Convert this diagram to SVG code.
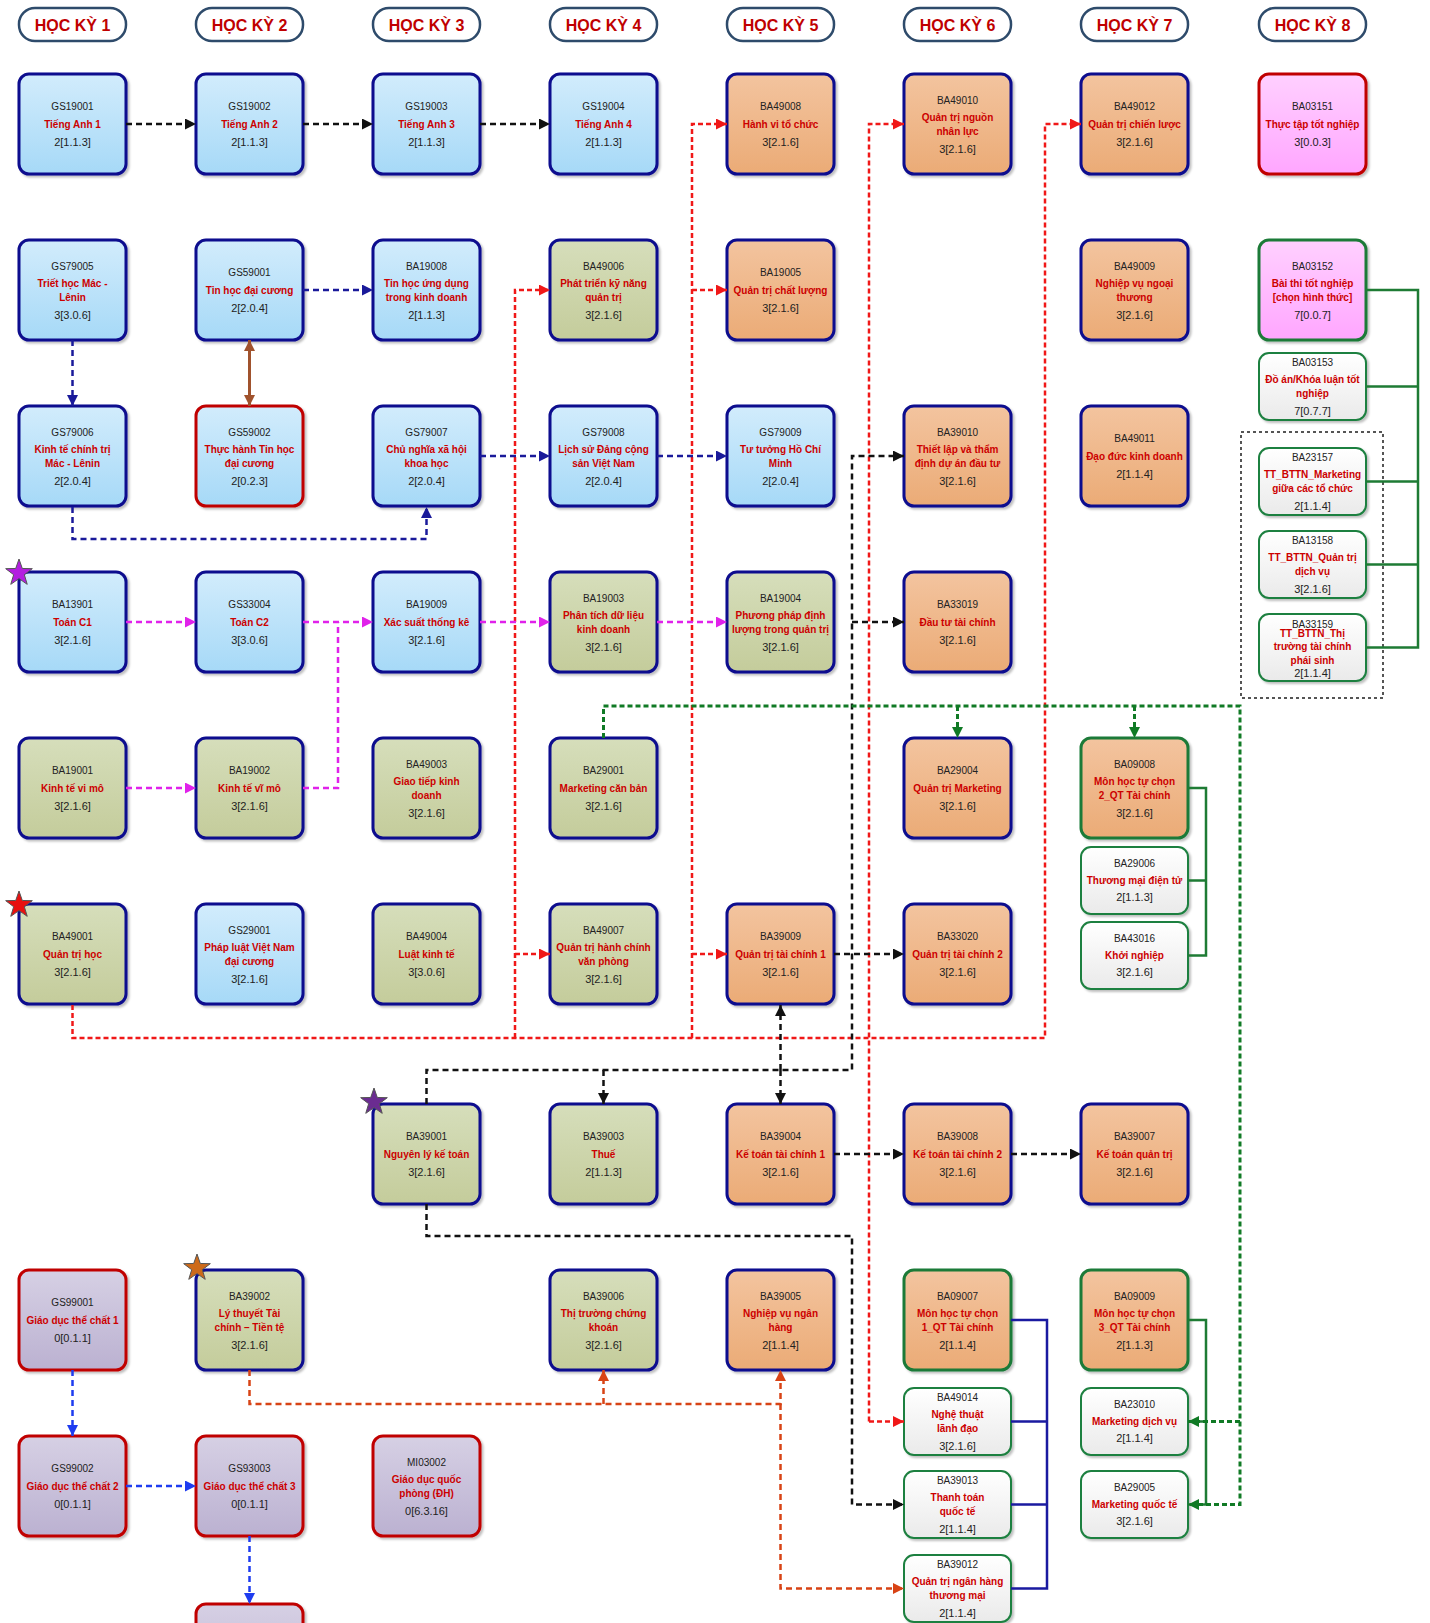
<svg xmlns="http://www.w3.org/2000/svg" xmlns:xlink="http://www.w3.org/1999/xlink" width="1430" height="1623" viewBox="0 0 1430 1623">
<style>
text{font-family:"Liberation Sans",Arial,sans-serif;text-anchor:middle}
.c{font-size:10px;fill:#222}
.n{font-size:10px;font-weight:bold;fill:#CC0000}
.k{font-size:11px;fill:#222}
.h{font-size:16px;font-weight:bold;fill:#C00000}
.hd{fill:#fff;stroke:#2E4B6B;stroke-width:2.5}
rect.b{stroke-width:3;filter:url(#sh)}
.blue{fill:url(#gBlue);stroke:#0D0D8E}
.blueR{fill:url(#gBlue);stroke:#C00000}
.olive{fill:url(#gOlive);stroke:#0D0D8E}
.orange{fill:url(#gOrange);stroke:#0D0D8E}
.orangeG{fill:url(#gOrange);stroke:#1B7A37}
.pinkR{fill:url(#gPink);stroke:#C00000}
.pinkG{fill:url(#gPink);stroke:#1B7A37}
.lav{fill:url(#gLav);stroke:#C00000}
rect.w{fill:url(#gWhite);stroke:#1E8040;stroke-width:2;filter:url(#sh)}
.cx{fill:none;stroke-width:2.5;stroke-dasharray:6 4}
.ck{stroke:#111}
.cn{stroke:#1A1A9A}
.cm{stroke:#E022EA}
.cr{stroke:#F01818;stroke-dasharray:5 3}
.co{stroke:#D84315}
.cg{stroke:#107A25;stroke-width:3;stroke-dasharray:5 3}
.cb{stroke:#1E3CF0}
.bus{fill:none;stroke-width:2.5}
.star{stroke:#555;stroke-width:1}
</style>
<defs>
<linearGradient id="gBlue" x1="0" y1="0" x2="0" y2="1"><stop offset="0" stop-color="#D2ECFC"/><stop offset="1" stop-color="#A6D9F7"/></linearGradient>
<linearGradient id="gOlive" x1="0" y1="0" x2="0" y2="1"><stop offset="0" stop-color="#D6DEBB"/><stop offset="1" stop-color="#C4CC9B"/></linearGradient>
<linearGradient id="gOrange" x1="0" y1="0" x2="0" y2="1"><stop offset="0" stop-color="#F3C49F"/><stop offset="1" stop-color="#EBAB76"/></linearGradient>
<linearGradient id="gPink" x1="0" y1="0" x2="0" y2="1"><stop offset="0" stop-color="#FFD0FF"/><stop offset="1" stop-color="#FFA6FF"/></linearGradient>
<linearGradient id="gLav" x1="0" y1="0" x2="0" y2="1"><stop offset="0" stop-color="#D6D0E4"/><stop offset="1" stop-color="#BBB1D1"/></linearGradient>
<linearGradient id="gWhite" x1="0" y1="0" x2="0" y2="1"><stop offset="0" stop-color="#FFFFFF"/><stop offset="1" stop-color="#EAEAEA"/></linearGradient>
<filter id="sh" x="-10%" y="-10%" width="125%" height="125%"><feDropShadow dx="2" dy="2" stdDeviation="1.2" flood-color="#000" flood-opacity="0.25"/></filter>
<marker id="aK" markerUnits="userSpaceOnUse" markerWidth="11" markerHeight="11" refX="11" refY="5.5" orient="auto"><path d="M0,0 L11,5.5 L0,11 z" fill="#111"/></marker>
<marker id="aN" markerUnits="userSpaceOnUse" markerWidth="11" markerHeight="11" refX="11" refY="5.5" orient="auto"><path d="M0,0 L11,5.5 L0,11 z" fill="#1A1A9A"/></marker>
<marker id="aM" markerUnits="userSpaceOnUse" markerWidth="11" markerHeight="11" refX="11" refY="5.5" orient="auto"><path d="M0,0 L11,5.5 L0,11 z" fill="#E022EA"/></marker>
<marker id="aR" markerUnits="userSpaceOnUse" markerWidth="11" markerHeight="11" refX="11" refY="5.5" orient="auto"><path d="M0,0 L11,5.5 L0,11 z" fill="#F01818"/></marker>
<marker id="aO" markerUnits="userSpaceOnUse" markerWidth="11" markerHeight="11" refX="11" refY="5.5" orient="auto"><path d="M0,0 L11,5.5 L0,11 z" fill="#D84315"/></marker>
<marker id="aG" markerUnits="userSpaceOnUse" markerWidth="11" markerHeight="11" refX="11" refY="5.5" orient="auto"><path d="M0,0 L11,5.5 L0,11 z" fill="#107A25"/></marker>
<marker id="aB" markerUnits="userSpaceOnUse" markerWidth="11" markerHeight="11" refX="11" refY="5.5" orient="auto"><path d="M0,0 L11,5.5 L0,11 z" fill="#1E3CF0"/></marker>
<marker id="aBr" markerUnits="userSpaceOnUse" markerWidth="11" markerHeight="11" refX="11" refY="5.5" orient="auto-start-reverse"><path d="M0,0 L11,5.5 L0,11 z" fill="#A0522D"/></marker>
<polygon id="star" points="0,-14 3.29,-4.53 13.32,-4.33 5.33,1.73 8.23,11.33 0,5.6 -8.23,11.33 -5.33,1.73 -13.32,-4.33 -3.29,-4.53"/>
</defs>
<rect width="1430" height="1623" fill="#fff"/>

<g id="headers">
<g id="hk1"><rect class="hd" x="19" y="8" width="107" height="33" rx="16"/><text class="h" x="72.5" y="30.5">HỌC KỲ 1</text></g>
<g id="hk2"><rect class="hd" x="196" y="8" width="107" height="33" rx="16"/><text class="h" x="249.5" y="30.5">HỌC KỲ 2</text></g>
<g id="hk3"><rect class="hd" x="373" y="8" width="107" height="33" rx="16"/><text class="h" x="426.5" y="30.5">HỌC KỲ 3</text></g>
<g id="hk4"><rect class="hd" x="550" y="8" width="107" height="33" rx="16"/><text class="h" x="603.5" y="30.5">HỌC KỲ 4</text></g>
<g id="hk5"><rect class="hd" x="727" y="8" width="107" height="33" rx="16"/><text class="h" x="780.5" y="30.5">HỌC KỲ 5</text></g>
<g id="hk6"><rect class="hd" x="904" y="8" width="107" height="33" rx="16"/><text class="h" x="957.5" y="30.5">HỌC KỲ 6</text></g>
<g id="hk7"><rect class="hd" x="1081" y="8" width="107" height="33" rx="16"/><text class="h" x="1134.5" y="30.5">HỌC KỲ 7</text></g>
<g id="hk8"><rect class="hd" x="1259" y="8" width="107" height="33" rx="16"/><text class="h" x="1312.5" y="30.5">HỌC KỲ 8</text></g>
</g>

<rect id="elective-frame" x="1241" y="432" width="142" height="266" fill="none" stroke="#555" stroke-width="2" stroke-dasharray="3 3"/>

<g id="nodes">
<!-- Column 1 -->
<g id="GS19001"><rect class="b blue" x="19" y="74" width="107" height="100" rx="10"/><text class="c" x="72.5" y="109.5">GS19001</text><text class="n" x="72.5" y="127.5">Tiếng Anh 1</text><text class="k" x="72.5" y="146">2[1.1.3]</text></g>
<g id="GS79005"><rect class="b blue" x="19" y="240" width="107" height="100" rx="10"/><text class="c" x="72.5" y="269.5">GS79005</text><text class="n" x="72.5" y="287">Triết học Mác -</text><text class="n" x="72.5" y="301">Lênin</text><text class="k" x="72.5" y="319">3[3.0.6]</text></g>
<g id="GS79006"><rect class="b blue" x="19" y="406" width="107" height="100" rx="10"/><text class="c" x="72.5" y="435.5">GS79006</text><text class="n" x="72.5" y="453">Kinh tế chính trị</text><text class="n" x="72.5" y="467">Mác - Lênin</text><text class="k" x="72.5" y="485">2[2.0.4]</text></g>
<g id="BA13901"><rect class="b blue" x="19" y="572" width="107" height="100" rx="10"/><use xlink:href="#star" href="#star" x="19" y="573" class="star" fill="#B31EE0"/><text class="c" x="72.5" y="607.5">BA13901</text><text class="n" x="72.5" y="625.5">Toán C1</text><text class="k" x="72.5" y="644">3[2.1.6]</text></g>
<g id="BA19001"><rect class="b olive" x="19" y="738" width="107" height="100" rx="10"/><text class="c" x="72.5" y="773.5">BA19001</text><text class="n" x="72.5" y="791.5">Kinh tế vi mô</text><text class="k" x="72.5" y="810">3[2.1.6]</text></g>
<g id="BA49001"><rect class="b olive" x="19" y="904" width="107" height="100" rx="10"/><use xlink:href="#star" href="#star" x="19" y="905" class="star" fill="#E81010"/><text class="c" x="72.5" y="939.5">BA49001</text><text class="n" x="72.5" y="957.5">Quản trị học</text><text class="k" x="72.5" y="976">3[2.1.6]</text></g>
<g id="GS99001"><rect class="b lav" x="19" y="1270" width="107" height="100" rx="10"/><text class="c" x="72.5" y="1305.5">GS99001</text><text class="n" x="72.5" y="1323.5">Giáo dục thể chất 1</text><text class="k" x="72.5" y="1342">0[0.1.1]</text></g>
<g id="GS99002"><rect class="b lav" x="19" y="1436" width="107" height="100" rx="10"/><text class="c" x="72.5" y="1471.5">GS99002</text><text class="n" x="72.5" y="1489.5">Giáo dục thể chất 2</text><text class="k" x="72.5" y="1508">0[0.1.1]</text></g>

<!-- Column 2 -->
<g id="GS19002"><rect class="b blue" x="196" y="74" width="107" height="100" rx="10"/><text class="c" x="249.5" y="109.5">GS19002</text><text class="n" x="249.5" y="127.5">Tiếng Anh 2</text><text class="k" x="249.5" y="146">2[1.1.3]</text></g>
<g id="GS59001"><rect class="b blue" x="196" y="240" width="107" height="100" rx="10"/><text class="c" x="249.5" y="275.5">GS59001</text><text class="n" x="249.5" y="293.5">Tin học đại cương</text><text class="k" x="249.5" y="312">2[2.0.4]</text></g>
<g id="GS59002"><rect class="b blueR" x="196" y="406" width="107" height="100" rx="10"/><text class="c" x="249.5" y="435.5">GS59002</text><text class="n" x="249.5" y="453">Thực hành Tin học</text><text class="n" x="249.5" y="467">đại cương</text><text class="k" x="249.5" y="485">2[0.2.3]</text></g>
<g id="GS33004"><rect class="b blue" x="196" y="572" width="107" height="100" rx="10"/><text class="c" x="249.5" y="607.5">GS33004</text><text class="n" x="249.5" y="625.5">Toán C2</text><text class="k" x="249.5" y="644">3[3.0.6]</text></g>
<g id="BA19002"><rect class="b olive" x="196" y="738" width="107" height="100" rx="10"/><text class="c" x="249.5" y="773.5">BA19002</text><text class="n" x="249.5" y="791.5">Kinh tế vĩ mô</text><text class="k" x="249.5" y="810">3[2.1.6]</text></g>
<g id="GS29001"><rect class="b blue" x="196" y="904" width="107" height="100" rx="10"/><text class="c" x="249.5" y="933.5">GS29001</text><text class="n" x="249.5" y="951">Pháp luật Việt Nam</text><text class="n" x="249.5" y="965">đại cương</text><text class="k" x="249.5" y="983">3[2.1.6]</text></g>
<g id="BA39002"><rect class="b olive" x="196" y="1270" width="107" height="100" rx="10"/><use xlink:href="#star" href="#star" x="197" y="1268" class="star" fill="#CD6A1A"/><text class="c" x="249.5" y="1299.5">BA39002</text><text class="n" x="249.5" y="1317">Lý thuyết Tài</text><text class="n" x="249.5" y="1331">chính – Tiền tệ</text><text class="k" x="249.5" y="1349">3[2.1.6]</text></g>
<g id="GS93003"><rect class="b lav" x="196" y="1436" width="107" height="100" rx="10"/><text class="c" x="249.5" y="1471.5">GS93003</text><text class="n" x="249.5" y="1489.5">Giáo dục thể chất 3</text><text class="k" x="249.5" y="1508">0[0.1.1]</text></g>
<g id="GDTC-next"><rect class="b lav" x="196" y="1604" width="107" height="100" rx="10"/></g>

<!-- Column 3 -->
<g id="GS19003"><rect class="b blue" x="373" y="74" width="107" height="100" rx="10"/><text class="c" x="426.5" y="109.5">GS19003</text><text class="n" x="426.5" y="127.5">Tiếng Anh 3</text><text class="k" x="426.5" y="146">2[1.1.3]</text></g>
<g id="BA19008"><rect class="b blue" x="373" y="240" width="107" height="100" rx="10"/><text class="c" x="426.5" y="269.5">BA19008</text><text class="n" x="426.5" y="287">Tin học ứng dụng</text><text class="n" x="426.5" y="301">trong kinh doanh</text><text class="k" x="426.5" y="319">2[1.1.3]</text></g>
<g id="GS79007"><rect class="b blue" x="373" y="406" width="107" height="100" rx="10"/><text class="c" x="426.5" y="435.5">GS79007</text><text class="n" x="426.5" y="453">Chủ nghĩa xã hội</text><text class="n" x="426.5" y="467">khoa học</text><text class="k" x="426.5" y="485">2[2.0.4]</text></g>
<g id="BA19009"><rect class="b blue" x="373" y="572" width="107" height="100" rx="10"/><text class="c" x="426.5" y="607.5">BA19009</text><text class="n" x="426.5" y="625.5">Xác suất thống kê</text><text class="k" x="426.5" y="644">3[2.1.6]</text></g>
<g id="BA49003"><rect class="b olive" x="373" y="738" width="107" height="100" rx="10"/><text class="c" x="426.5" y="767.5">BA49003</text><text class="n" x="426.5" y="785">Giao tiếp kinh</text><text class="n" x="426.5" y="799">doanh</text><text class="k" x="426.5" y="817">3[2.1.6]</text></g>
<g id="BA49004"><rect class="b olive" x="373" y="904" width="107" height="100" rx="10"/><text class="c" x="426.5" y="939.5">BA49004</text><text class="n" x="426.5" y="957.5">Luật kinh tế</text><text class="k" x="426.5" y="976">3[3.0.6]</text></g>
<g id="BA39001"><rect class="b olive" x="373" y="1104" width="107" height="100" rx="10"/><use xlink:href="#star" href="#star" x="374" y="1102" class="star" fill="#6B2C91"/><text class="c" x="426.5" y="1139.5">BA39001</text><text class="n" x="426.5" y="1157.5">Nguyên lý kế toán</text><text class="k" x="426.5" y="1176">3[2.1.6]</text></g>
<g id="MI03002"><rect class="b lav" x="373" y="1436" width="107" height="100" rx="10"/><text class="c" x="426.5" y="1465.5">MI03002</text><text class="n" x="426.5" y="1483">Giáo dục quốc</text><text class="n" x="426.5" y="1497">phòng (ĐH)</text><text class="k" x="426.5" y="1515">0[6.3.16]</text></g>

<!-- Column 4 -->
<g id="GS19004"><rect class="b blue" x="550" y="74" width="107" height="100" rx="10"/><text class="c" x="603.5" y="109.5">GS19004</text><text class="n" x="603.5" y="127.5">Tiếng Anh 4</text><text class="k" x="603.5" y="146">2[1.1.3]</text></g>
<g id="BA49006"><rect class="b olive" x="550" y="240" width="107" height="100" rx="10"/><text class="c" x="603.5" y="269.5">BA49006</text><text class="n" x="603.5" y="287">Phát triển kỹ năng</text><text class="n" x="603.5" y="301">quản trị</text><text class="k" x="603.5" y="319">3[2.1.6]</text></g>
<g id="GS79008"><rect class="b blue" x="550" y="406" width="107" height="100" rx="10"/><text class="c" x="603.5" y="435.5">GS79008</text><text class="n" x="603.5" y="453">Lịch sử Đảng cộng</text><text class="n" x="603.5" y="467">sản Việt Nam</text><text class="k" x="603.5" y="485">2[2.0.4]</text></g>
<g id="BA19003"><rect class="b olive" x="550" y="572" width="107" height="100" rx="10"/><text class="c" x="603.5" y="601.5">BA19003</text><text class="n" x="603.5" y="619">Phân tích dữ liệu</text><text class="n" x="603.5" y="633">kinh doanh</text><text class="k" x="603.5" y="651">3[2.1.6]</text></g>
<g id="BA29001"><rect class="b olive" x="550" y="738" width="107" height="100" rx="10"/><text class="c" x="603.5" y="773.5">BA29001</text><text class="n" x="603.5" y="791.5">Marketing căn bản</text><text class="k" x="603.5" y="810">3[2.1.6]</text></g>
<g id="BA49007"><rect class="b olive" x="550" y="904" width="107" height="100" rx="10"/><text class="c" x="603.5" y="933.5">BA49007</text><text class="n" x="603.5" y="951">Quản trị hành chính</text><text class="n" x="603.5" y="965">văn phòng</text><text class="k" x="603.5" y="983">3[2.1.6]</text></g>
<g id="BA39003"><rect class="b olive" x="550" y="1104" width="107" height="100" rx="10"/><text class="c" x="603.5" y="1139.5">BA39003</text><text class="n" x="603.5" y="1157.5">Thuế</text><text class="k" x="603.5" y="1176">2[1.1.3]</text></g>
<g id="BA39006"><rect class="b olive" x="550" y="1270" width="107" height="100" rx="10"/><text class="c" x="603.5" y="1299.5">BA39006</text><text class="n" x="603.5" y="1317">Thị trường chứng</text><text class="n" x="603.5" y="1331">khoán</text><text class="k" x="603.5" y="1349">3[2.1.6]</text></g>

<!-- Column 5 -->
<g id="BA49008"><rect class="b orange" x="727" y="74" width="107" height="100" rx="10"/><text class="c" x="780.5" y="109.5">BA49008</text><text class="n" x="780.5" y="127.5">Hành vi tổ chức</text><text class="k" x="780.5" y="146">3[2.1.6]</text></g>
<g id="BA19005"><rect class="b orange" x="727" y="240" width="107" height="100" rx="10"/><text class="c" x="780.5" y="275.5">BA19005</text><text class="n" x="780.5" y="293.5">Quản trị chất lượng</text><text class="k" x="780.5" y="312">3[2.1.6]</text></g>
<g id="GS79009"><rect class="b blue" x="727" y="406" width="107" height="100" rx="10"/><text class="c" x="780.5" y="435.5">GS79009</text><text class="n" x="780.5" y="453">Tư tưởng Hồ Chí</text><text class="n" x="780.5" y="467">Minh</text><text class="k" x="780.5" y="485">2[2.0.4]</text></g>
<g id="BA19004"><rect class="b olive" x="727" y="572" width="107" height="100" rx="10"/><text class="c" x="780.5" y="601.5">BA19004</text><text class="n" x="780.5" y="619">Phương pháp định</text><text class="n" x="780.5" y="633">lượng trong quản trị</text><text class="k" x="780.5" y="651">3[2.1.6]</text></g>
<g id="BA39009"><rect class="b orange" x="727" y="904" width="107" height="100" rx="10"/><text class="c" x="780.5" y="939.5">BA39009</text><text class="n" x="780.5" y="957.5">Quản trị tài chính 1</text><text class="k" x="780.5" y="976">3[2.1.6]</text></g>
<g id="BA39004"><rect class="b orange" x="727" y="1104" width="107" height="100" rx="10"/><text class="c" x="780.5" y="1139.5">BA39004</text><text class="n" x="780.5" y="1157.5">Kế toán tài chính 1</text><text class="k" x="780.5" y="1176">3[2.1.6]</text></g>
<g id="BA39005"><rect class="b orange" x="727" y="1270" width="107" height="100" rx="10"/><text class="c" x="780.5" y="1299.5">BA39005</text><text class="n" x="780.5" y="1317">Nghiệp vụ ngân</text><text class="n" x="780.5" y="1331">hàng</text><text class="k" x="780.5" y="1349">2[1.1.4]</text></g>

<!-- Column 6 -->
<g id="BA49010"><rect class="b orange" x="904" y="74" width="107" height="100" rx="10"/><text class="c" x="957.5" y="103.5">BA49010</text><text class="n" x="957.5" y="121">Quản trị nguồn</text><text class="n" x="957.5" y="135">nhân lực</text><text class="k" x="957.5" y="153">3[2.1.6]</text></g>
<g id="BA39010"><rect class="b orange" x="904" y="406" width="107" height="100" rx="10"/><text class="c" x="957.5" y="435.5">BA39010</text><text class="n" x="957.5" y="453">Thiết lập và thẩm</text><text class="n" x="957.5" y="467">định dự án đầu tư</text><text class="k" x="957.5" y="485">3[2.1.6]</text></g>
<g id="BA33019"><rect class="b orange" x="904" y="572" width="107" height="100" rx="10"/><text class="c" x="957.5" y="607.5">BA33019</text><text class="n" x="957.5" y="625.5">Đầu tư tài chính</text><text class="k" x="957.5" y="644">3[2.1.6]</text></g>
<g id="BA29004"><rect class="b orange" x="904" y="738" width="107" height="100" rx="10"/><text class="c" x="957.5" y="773.5">BA29004</text><text class="n" x="957.5" y="791.5">Quản trị Marketing</text><text class="k" x="957.5" y="810">3[2.1.6]</text></g>
<g id="BA33020"><rect class="b orange" x="904" y="904" width="107" height="100" rx="10"/><text class="c" x="957.5" y="939.5">BA33020</text><text class="n" x="957.5" y="957.5">Quản trị tài chính 2</text><text class="k" x="957.5" y="976">3[2.1.6]</text></g>
<g id="BA39008"><rect class="b orange" x="904" y="1104" width="107" height="100" rx="10"/><text class="c" x="957.5" y="1139.5">BA39008</text><text class="n" x="957.5" y="1157.5">Kế toán tài chính 2</text><text class="k" x="957.5" y="1176">3[2.1.6]</text></g>
<g id="BA09007"><rect class="b orangeG" x="904" y="1270" width="107" height="100" rx="10"/><text class="c" x="957.5" y="1299.5">BA09007</text><text class="n" x="957.5" y="1317">Môn học tự chọn</text><text class="n" x="957.5" y="1331">1_QT Tài chính</text><text class="k" x="957.5" y="1349">2[1.1.4]</text></g>
<g id="BA49014"><rect class="w" x="904" y="1388" width="107" height="67" rx="10"/><text class="c" x="957.5" y="1400.5">BA49014</text><text class="n" x="957.5" y="1418.3">Nghệ thuật</text><text class="n" x="957.5" y="1431.8">lãnh đạo</text><text class="k" x="957.5" y="1449.8">3[2.1.6]</text></g>
<g id="BA39013"><rect class="w" x="904" y="1471" width="107" height="67" rx="10"/><text class="c" x="957.5" y="1483.5">BA39013</text><text class="n" x="957.5" y="1501.3">Thanh toán</text><text class="n" x="957.5" y="1514.8">quốc tế</text><text class="k" x="957.5" y="1532.8">2[1.1.4]</text></g>
<g id="BA39012"><rect class="w" x="904" y="1555" width="107" height="67" rx="10"/><text class="c" x="957.5" y="1567.5">BA39012</text><text class="n" x="957.5" y="1585.3">Quản trị ngân hàng</text><text class="n" x="957.5" y="1598.8">thương mại</text><text class="k" x="957.5" y="1616.8">2[1.1.4]</text></g>

<!-- Column 7 -->
<g id="BA49012"><rect class="b orange" x="1081" y="74" width="107" height="100" rx="10"/><text class="c" x="1134.5" y="109.5">BA49012</text><text class="n" x="1134.5" y="127.5">Quản trị chiến lược</text><text class="k" x="1134.5" y="146">3[2.1.6]</text></g>
<g id="BA49009"><rect class="b orange" x="1081" y="240" width="107" height="100" rx="10"/><text class="c" x="1134.5" y="269.5">BA49009</text><text class="n" x="1134.5" y="287">Nghiệp vụ ngoại</text><text class="n" x="1134.5" y="301">thương</text><text class="k" x="1134.5" y="319">3[2.1.6]</text></g>
<g id="BA49011"><rect class="b orange" x="1081" y="406" width="107" height="100" rx="10"/><text class="c" x="1134.5" y="441.5">BA49011</text><text class="n" x="1134.5" y="459.5">Đạo đức kinh doanh</text><text class="k" x="1134.5" y="478">2[1.1.4]</text></g>
<g id="BA09008"><rect class="b orangeG" x="1081" y="738" width="107" height="100" rx="10"/><text class="c" x="1134.5" y="767.5">BA09008</text><text class="n" x="1134.5" y="785">Môn học tự chọn</text><text class="n" x="1134.5" y="799">2_QT Tài chính</text><text class="k" x="1134.5" y="817">3[2.1.6]</text></g>
<g id="BA29006"><rect class="w" x="1081" y="847" width="107" height="67" rx="10"/><text class="c" x="1134.5" y="867">BA29006</text><text class="n" x="1134.5" y="884">Thương mại điện tử</text><text class="k" x="1134.5" y="901">2[1.1.3]</text></g>
<g id="BA43016"><rect class="w" x="1081" y="922" width="107" height="67" rx="10"/><text class="c" x="1134.5" y="942">BA43016</text><text class="n" x="1134.5" y="959">Khởi nghiệp</text><text class="k" x="1134.5" y="976">3[2.1.6]</text></g>
<g id="BA39007"><rect class="b orange" x="1081" y="1104" width="107" height="100" rx="10"/><text class="c" x="1134.5" y="1139.5">BA39007</text><text class="n" x="1134.5" y="1157.5">Kế toán quản trị</text><text class="k" x="1134.5" y="1176">3[2.1.6]</text></g>
<g id="BA09009"><rect class="b orangeG" x="1081" y="1270" width="107" height="100" rx="10"/><text class="c" x="1134.5" y="1299.5">BA09009</text><text class="n" x="1134.5" y="1317">Môn học tự chọn</text><text class="n" x="1134.5" y="1331">3_QT Tài chính</text><text class="k" x="1134.5" y="1349">2[1.1.3]</text></g>
<g id="BA23010"><rect class="w" x="1081" y="1388" width="107" height="67" rx="10"/><text class="c" x="1134.5" y="1408">BA23010</text><text class="n" x="1134.5" y="1425">Marketing dịch vụ</text><text class="k" x="1134.5" y="1442">2[1.1.4]</text></g>
<g id="BA29005"><rect class="w" x="1081" y="1471" width="107" height="67" rx="10"/><text class="c" x="1134.5" y="1491">BA29005</text><text class="n" x="1134.5" y="1508">Marketing quốc tế</text><text class="k" x="1134.5" y="1525">3[2.1.6]</text></g>

<!-- Column 8 -->
<g id="BA03151"><rect class="b pinkR" x="1259" y="74" width="107" height="100" rx="10"/><text class="c" x="1312.5" y="109.5">BA03151</text><text class="n" x="1312.5" y="127.5">Thực tập tốt nghiệp</text><text class="k" x="1312.5" y="146">3[0.0.3]</text></g>
<g id="BA03152"><rect class="b pinkG" x="1259" y="240" width="107" height="100" rx="10"/><text class="c" x="1312.5" y="269.5">BA03152</text><text class="n" x="1312.5" y="287">Bài thi tốt nghiệp</text><text class="n" x="1312.5" y="301">[chọn hình thức]</text><text class="k" x="1312.5" y="319">7[0.0.7]</text></g>
<g id="BA03153"><rect class="w" x="1259" y="353" width="107" height="67" rx="10"/><text class="c" x="1312.5" y="365.5">BA03153</text><text class="n" x="1312.5" y="383.3">Đồ án/Khóa luận tốt</text><text class="n" x="1312.5" y="396.8">nghiệp</text><text class="k" x="1312.5" y="414.8">7[0.7.7]</text></g>
<g id="BA23157"><rect class="w" x="1259" y="448" width="107" height="67" rx="10"/><text class="c" x="1312.5" y="460.5">BA23157</text><text class="n" x="1312.5" y="478.3">TT_BTTN_Marketing</text><text class="n" x="1312.5" y="491.8">giữa các tổ chức</text><text class="k" x="1312.5" y="509.8">2[1.1.4]</text></g>
<g id="BA13158"><rect class="w" x="1259" y="531" width="107" height="67" rx="10"/><text class="c" x="1312.5" y="543.5">BA13158</text><text class="n" x="1312.5" y="561.3">TT_BTTN_Quản trị</text><text class="n" x="1312.5" y="574.8">dịch vụ</text><text class="k" x="1312.5" y="592.8">3[2.1.6]</text></g>
<g id="BA33159"><rect class="w" x="1259" y="614" width="107" height="67" rx="10"/><text class="c" x="1312.5" y="627.5">BA33159</text><text class="n" x="1312.5" y="637.3">TT_BTTN_Thị</text><text class="n" x="1312.5" y="650">trường tài chính</text><text class="n" x="1312.5" y="664">phái sinh</text><text class="k" x="1312.5" y="676.5">2[1.1.4]</text></g>
</g>

<g id="connectors">
<!-- solid group buses -->
<path class="bus" stroke="#1E7B34" d="M1366,290 H1418 V647.5 H1366 M1366,386.5 H1418 M1366,481.5 H1418 M1366,564.5 H1418"/>
<path class="bus" stroke="#1E7B34" stroke-width="2" d="M1188,788 H1206 V955.5 H1188 M1188,880.5 H1206"/>
<path class="bus" stroke="#1A1AA0" d="M1011,1320 H1047 V1588.5 H1011 M1011,1421.5 H1047 M1011,1504.5 H1047"/>
<path class="bus" stroke="#1E7B34" stroke-width="2" d="M1188,1320 H1206 V1504.5 H1188 M1188,1421.5 H1206"/>

<!-- red prerequisites -->
<g class="cx cr" marker-end="url(#aR)">
<path d="M72.5,1005 V1038 H1045 V124 H1081"/>
<path d="M515,1038 V290 H550"/>
<path d="M515,954 H550"/>
<path d="M692,1038 V124 H727"/>
<path d="M692,290 H727"/>
<path d="M692,954 H727"/>
<path d="M869,1421.5 V124 H904"/>
<path d="M869,1421.5 H904"/>
</g>

<!-- black -->
<g class="cx ck" marker-end="url(#aK)">
<path d="M126,124 H196"/>
<path d="M303,124 H373"/>
<path d="M480,124 H550"/>
<path d="M426.5,1104 V1070 H852 V456 H904"/>
<path d="M852,622 H904"/>
<path d="M603.5,1070 V1104"/>
<path d="M780.5,1070 V1104"/>
<path d="M780.5,1070 V1005"/>
<path d="M834,954 H904"/>
<path d="M834,1154 H904"/>
<path d="M1011,1154 H1081"/>
<path d="M426.5,1204 V1236 H852 V1504.5 H904"/>
</g>

<!-- navy -->
<g class="cx cn" marker-end="url(#aN)">
<path d="M303,290 H373"/>
<path d="M72.5,340 V406"/>
<path d="M72.5,507 V539 H426.5 V507"/>
<path d="M480,456 H550"/>
<path d="M657,456 H727"/>
</g>

<path id="c-GS59001-GS59002" d="M249.5,340 V406" fill="none" stroke="#A0522D" stroke-width="3" marker-start="url(#aBr)" marker-end="url(#aBr)"/>

<!-- magenta -->
<g class="cx cm">
<path d="M126,622 H196" marker-end="url(#aM)"/>
<path d="M303,622 H373" marker-end="url(#aM)"/>
<path d="M126,788 H196" marker-end="url(#aM)"/>
<path d="M303,788 H338 V622"/>
<path d="M480,622 H550" marker-end="url(#aM)"/>
<path d="M657,622 H727" marker-end="url(#aM)"/>
</g>

<!-- orange-red -->
<g class="cx co" marker-end="url(#aO)">
<path d="M249.5,1370 V1404 H780.5 V1370"/>
<path d="M603.5,1404 V1370"/>
<path d="M780.5,1404 V1588.5 H904"/>
</g>

<!-- green -->
<g class="cx cg" marker-end="url(#aG)">
<path d="M603.5,738 V706 H1240 V1504.5 H1188"/>
<path d="M957.5,706 V738"/>
<path d="M1134.5,706 V738"/>
<path d="M1240,1421.5 H1188"/>
</g>

<!-- blue -->
<g class="cx cb" marker-end="url(#aB)">
<path d="M72.5,1370 V1436"/>
<path d="M126,1486 H196"/>
<path d="M249.5,1536 V1604"/>
</g>
</g>
</svg>
